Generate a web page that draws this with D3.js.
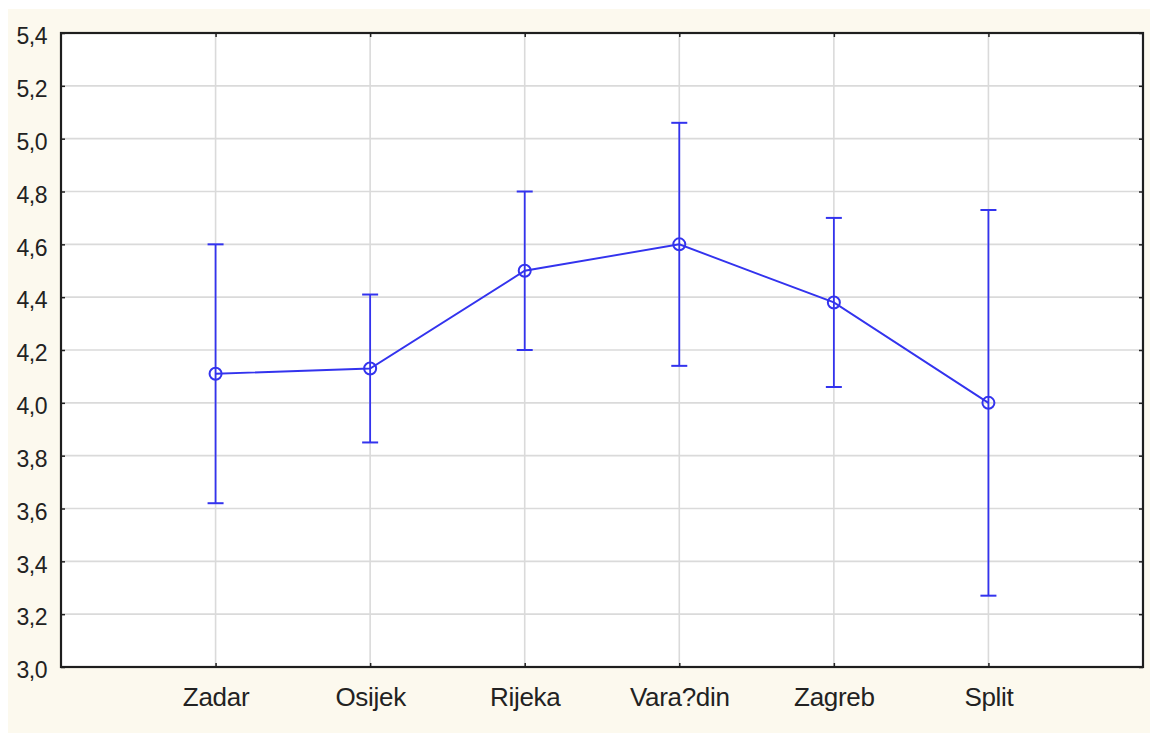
<!DOCTYPE html>
<html>
<head>
<meta charset="utf-8">
<script src="https://cdn.jsdelivr.net/npm/d3@7"></script>
<style>
   body { margin: 0; background: #ffffff; }
   text { font-family: "Liberation Sans", Arial, sans-serif; fill: #222; }
   .yAxis text { font-size: 23px; letter-spacing: -0.5px; }
   .xAxis text { font-size: 26px; letter-spacing: -0.3px; }
   .axis path { display: none; }
   .axis line { stroke: #222; stroke-width: 1.5; }
</style>
</head>
<body>
<div id="container"></div>
<script>
// mean with error bar (lower / upper)
const cities = ["Zadar", "Osijek", "Rijeka", "Vara?din", "Zagreb", "Split"];
const means = [4.11, 4.13, 4.50, 4.60, 4.38, 4.00];
const lowers = [3.62, 3.85, 4.20, 4.14, 4.06, 3.27];
const uppers = [4.60, 4.41, 4.80, 5.06, 4.70, 4.73];
const yTicks = [3.0, 3.2, 3.4, 3.6, 3.8, 4.0, 4.2, 4.4, 4.6, 4.8, 5.0, 5.2, 5.4];

function draw() {
   const width = 1150;
   const height = 733;
   const margin = { top: 33, right: 7, bottom: 66, left: 61 };
   const blue = "#3333ee";

   const svg = d3.select("#container").append("svg")
      .attr("width", width)
      .attr("height", height);

   // cream page behind the plot
   svg.append("rect")
      .attr("x", 8)
      .attr("y", 9)
      .attr("width", width - 8)
      .attr("height", height - 9)
      .style("fill", "#fcf9ee");

   const x = d3.scaleLinear()
      .domain([0, cities.length + 1])
      .range([margin.left, width - margin.right]);

   const y = d3.scaleLinear()
      .domain([3.0, 5.4])
      .range([height - margin.bottom, margin.top]);

   const data = cities.map((c, i) => ({
      name: c,
      pos: i + 1,
      mean: means[i],
      lo: lowers[i],
      hi: uppers[i]
   }));

   svg.append("rect")
      .attr("x", x(0))
      .attr("y", y(5.4))
      .attr("width", x(cities.length + 1) - x(0))
      .attr("height", y(3.0) - y(5.4))
      .style("fill", "#ffffff");

   // grid
   svg.append("g").selectAll("line")
      .data(yTicks.slice(1, -1))
      .enter()
      .append("line")
      .attr("x1", x(0))
      .attr("x2", x(cities.length + 1))
      .attr("y1", d => y(d))
      .attr("y2", d => y(d))
      .style("stroke", "#dadada")
      .style("stroke-width", 1.6);

   svg.append("g").selectAll("line")
      .data(data)
      .enter()
      .append("line")
      .attr("x1", d => x(d.pos))
      .attr("x2", d => x(d.pos))
      .attr("y1", y(5.4))
      .attr("y2", y(3.0))
      .style("stroke", "#dadada")
      .style("stroke-width", 1.6);

   const fmt = v => d3.format(".1f")(v).replace(".", ",");

   const yAxis = d3.axisLeft(y)
      .tickValues(yTicks)
      .tickSizeInner(-4)
      .tickSizeOuter(0)
      .tickPadding(14)
      .tickFormat(fmt);

   svg.append("g")
      .attr("class", "axis yAxis")
      .attr("transform", `translate(${margin.left}, 0)`)
      .call(yAxis)
      .selectAll("text")
      .attr("dy", "0.47em");

   svg.append("g")
      .attr("class", "axis yAxisRight")
      .attr("transform", `translate(${width - margin.right}, 0)`)
      .call(d3.axisRight(y).tickValues(yTicks).tickSizeInner(-4).tickSizeOuter(0).tickFormat(""));

   const xAxis = d3.axisBottom(x)
      .tickValues(data.map(d => d.pos))
      .tickSizeInner(-4)
      .tickSizeOuter(0)
      .tickPadding(21)
      .tickFormat((d, i) => cities[i]);

   svg.append("g")
      .attr("class", "axis xAxis")
      .attr("transform", `translate(0, ${height - margin.bottom})`)
      .call(xAxis);

   svg.append("g")
      .attr("class", "axis xAxisTop")
      .attr("transform", `translate(0, ${margin.top})`)
      .call(d3.axisTop(x).tickValues(data.map(d => d.pos)).tickSizeInner(-4).tickSizeOuter(0).tickFormat(""));

   // frame
   svg.append("rect")
      .attr("x", x(0))
      .attr("y", y(5.4))
      .attr("width", x(cities.length + 1) - x(0))
      .attr("height", y(3.0) - y(5.4))
      .style("fill", "none")
      .style("stroke", "#1e1e1e")
      .style("stroke-width", 2.2);

   // error bars
   const bars = svg.append("g").selectAll("g")
      .data(data)
      .enter()
      .append("g");

   bars.append("line")
      .attr("x1", d => x(d.pos))
      .attr("x2", d => x(d.pos))
      .attr("y1", d => y(d.lo))
      .attr("y2", d => y(d.hi))
      .style("stroke", blue)
      .style("stroke-width", 1.8);

   ["lo", "hi"].forEach(k => {
      bars.append("line")
         .attr("x1", d => x(d.pos) - 8)
         .attr("x2", d => x(d.pos) + 8)
         .attr("y1", d => y(d[k]))
         .attr("y2", d => y(d[k]))
         .style("stroke", blue)
         .style("stroke-width", 2);
   });

   const line = d3.line()
      .x(d => x(d.pos))
      .y(d => y(d.mean));

   svg.append("path")
      .datum(data)
      .attr("d", line)
      .style("fill", "none")
      .style("stroke", blue)
      .style("stroke-width", 1.9);

   svg.append("g").selectAll("circle")
      .data(data)
      .enter()
      .append("circle")
      .attr("cx", d => x(d.pos))
      .attr("cy", d => y(d.mean))
      .attr("r", 6)
      .style("fill", "none")
      .style("stroke", blue)
      .style("stroke-width", 2);
}

draw();
</script>
</body>
</html>
